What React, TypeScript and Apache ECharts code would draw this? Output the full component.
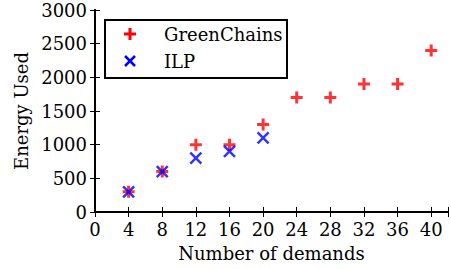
import React, { useEffect, useRef } from "react";
import * as echarts from "echarts";

const demands = [4, 8, 12, 16, 20, 24, 28, 32, 36, 40];
const greenChains = [300, 600, 1000, 1000, 1300, 1700, 1700, 1900, 1900, 2400];
const ilpDemands = [4, 8, 12, 16, 20];
const ilp = [300, 600, 800, 900, 1100];
const seriesNames = ["GreenChains", "ILP"];

const FONT = "DejaVu Serif";
const PLUS = "path://M0,5L10,5M5,0L5,10";
const CROSS = "path://M0,0L10,10M10,0L0,10";

export default function App() {
  const ref = useRef<HTMLDivElement>(null);
  useEffect(() => {
    document.body.style.margin = "0";
    const chart = echarts.init(ref.current!, null, { renderer: "svg" });
    const axisCommon = {
      axisLine: { show: true, lineStyle: { color: "#000", width: 2 } },
      axisTick: { show: true, inside: true, length: 5, lineStyle: { color: "#000", width: 1 } },
      splitLine: { show: false },
    };
    chart.setOption({
      animation: false,
      backgroundColor: "#fff",
      grid: { left: 95, right: 1, top: 10, bottom: 57, containLabel: false },
      xAxis: [
        {
          type: "value",
          min: 0,
          max: 42,
          interval: 4,
          name: "Number of demands",
          nameLocation: "middle",
          nameGap: 32,
          nameTextStyle: { fontFamily: FONT, fontSize: 18, color: "#000" },
          ...axisCommon,
          axisLabel: {
            margin: 8,
            fontFamily: FONT,
            fontSize: 18,
            color: "#000",
            formatter: (v: number) => (v % 4 === 0 ? String(v) : ""),
          },
        },
        {
          type: "value",
          position: "top",
          min: 0,
          max: 42,
          interval: 4,
          ...axisCommon,
          axisLabel: { show: false },
        },
      ],
      yAxis: [
        {
          type: "value",
          min: 0,
          max: 3000,
          interval: 500,
          name: "Energy Used",
          nameLocation: "middle",
          nameGap: 52,
          nameTextStyle: { fontFamily: FONT, fontSize: 18, color: "#000" },
          ...axisCommon,
          axisLabel: {
            margin: 8,
            fontFamily: FONT,
            fontSize: 18,
            color: "#000",
            formatter: (v: number) => String(v),
          },
        },
        {
          type: "value",
          position: "right",
          min: 0,
          max: 3000,
          interval: 500,
          ...axisCommon,
          axisLabel: { show: false },
        },
      ],
      series: [
        {
          name: seriesNames[0],
          type: "scatter",
          data: demands.map((d, i) => [d, greenChains[i]]),
          symbol: PLUS,
          symbolSize: 12,
          itemStyle: { color: "rgba(0,0,0,0)", borderColor: "#ff0000", borderWidth: 3 },
        },
        {
          name: seriesNames[1],
          type: "scatter",
          data: ilpDemands.map((d, i) => [d, ilp[i]]),
          symbol: CROSS,
          symbolSize: 11,
          itemStyle: { color: "rgba(0,0,0,0)", borderColor: "#0000ff", borderWidth: 2.5 },
        },
      ],
      graphic: [
        {
          type: "group",
          left: 104,
          top: 19,
          children: [
            {
              type: "rect",
              shape: { x: 0, y: 0, width: 182, height: 58 },
              style: { fill: "#fff", stroke: "#000", lineWidth: 2 },
            },
            { type: "line", shape: { x1: 19, y1: 14, x2: 31, y2: 14 }, style: { stroke: "#ff0000", lineWidth: 3 } },
            { type: "line", shape: { x1: 25, y1: 8, x2: 25, y2: 20 }, style: { stroke: "#ff0000", lineWidth: 3 } },
            { type: "line", shape: { x1: 20, y1: 36, x2: 30, y2: 46 }, style: { stroke: "#0000ff", lineWidth: 2.5 } },
            { type: "line", shape: { x1: 30, y1: 36, x2: 20, y2: 46 }, style: { stroke: "#0000ff", lineWidth: 2.5 } },
            {
              type: "text",
              x: 59,
              y: 14,
              style: { text: seriesNames[0], font: `18px '${FONT}'`, fill: "#000", verticalAlign: "middle" },
            },
            {
              type: "text",
              x: 59,
              y: 41,
              style: { text: seriesNames[1], font: `18px '${FONT}'`, fill: "#000", verticalAlign: "middle" },
            },
          ],
        },
      ],
    });
    return () => chart.dispose();
  }, []);
  return <div ref={ref} style={{ width: 451, height: 269 }} />;
}
